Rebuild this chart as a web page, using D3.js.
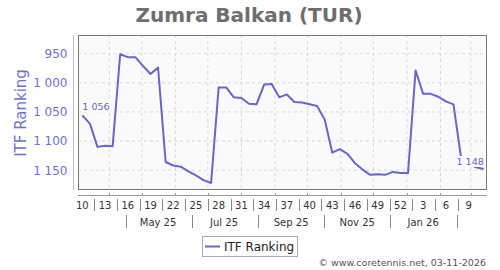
<!DOCTYPE html>
<html>
<head>
<meta charset="utf-8">
<script src="https://cdn.jsdelivr.net/npm/d3@7"></script>
<style>
  body { margin: 0; background: #fff; }
  svg { font-family: "DejaVu Sans", sans-serif; display: block; }
</style>
</head>
<body>
<svg width="500" height="270"></svg>
<script>
var width = 500;
var height = 270;

// iso weeks, from week 10 of 2025 to week 11 of 2026
var weeks = [10, 11, 12, 13, 14, 15, 16, 17, 18, 19, 20, 21, 22, 23, 24, 25, 26, 27,
    28, 29, 30, 31, 32, 33, 34, 35, 36, 37, 38, 39, 40, 41, 42, 43, 44, 45, 46, 47,
    48, 49, 50, 51, 52, 1, 2, 3, 4, 5, 6, 7, 8, 9, 10, 11];
var ranking = [1056, 1070, 1110, 1108, 1109, 951, 956, 956, 971, 985, 974, 1136,
    1142, 1144, 1152, 1159, 1167, 1172, 1008, 1008, 1025, 1026, 1036, 1037, 1003,
    1002, 1025, 1020, 1033, 1034, 1037, 1040, 1063, 1120, 1114, 1122, 1138, 1149,
    1158, 1157, 1158, 1153, 1155, 1155, 979, 1019, 1019, 1024, 1032, 1037, 1128,
    1140, 1145, 1148];
var yTicks = [950, 1000, 1050, 1100, 1150];
var monthLabels = ["May 25", "Jul 25", "Sep 25", "Nov 25", "Jan 26"];
var firstWeek = new Date(2025, 2, 7);

var data = weeks.map(function (w, i) {
    return { week: w, date: d3.timeDay.offset(firstWeek, i * 7), rank: ranking[i] };
});

var svg = d3.select('svg');
var lineColor = "#6666cc";
var fmt = function (v) { return d3.format(",")(v).replace(",", " "); };

var x = d3.scaleTime()
    .domain([new Date(2025, 2, 3), new Date(2026, 2, 16)])
    .range([78, 487]);
var y = d3.scaleLinear().domain([918, 1184]).range([35, 190]);

// title
svg.append("text")
    .attr("x", 249)
    .attr("y", 22)
    .attr("text-anchor", "middle")
    .attr("font-size", "20px")
    .attr("font-weight", "bold")
    .attr("fill", "#6e6e6e")
    .text("Zumra Balkan (TUR)");

// plot background
svg.append("rect")
    .attr("x", 78).attr("y", 35)
    .attr("width", 409).attr("height", 155)
    .attr("fill", "#fafafa");

// grid
var months = d3.timeMonth.range(new Date(2025, 3, 1), new Date(2026, 2, 2));
svg.append("g").selectAll("line")
    .data(yTicks)
    .enter().append("line")
    .attr("x1", 78).attr("x2", 487)
    .attr("y1", function (d) { return y(d); })
    .attr("y2", function (d) { return y(d); })
    .attr("stroke", "#d8d8d8")
    .attr("stroke-dasharray", "3,3");
svg.append("g").selectAll("line")
    .data(months)
    .enter().append("line")
    .attr("x1", function (d) { return x(d); })
    .attr("x2", function (d) { return x(d); })
    .attr("y1", 35).attr("y2", 190)
    .attr("stroke", "#d8d8d8")
    .attr("stroke-dasharray", "3,3");

// plot border
svg.append("rect")
    .attr("x", 78.5).attr("y", 35.5)
    .attr("width", 408).attr("height", 154)
    .attr("fill", "none")
    .attr("stroke", "#777");

// y axis
var yAxis = d3.axisLeft(y).tickValues(yTicks).tickSize(0).tickPadding(6).tickFormat(fmt);
var yg = svg.append("g")
    .attr("transform", "translate(73.5,0)")
    .call(yAxis);
yg.select(".domain").attr("stroke", "#b8b8e0").attr("d", "M0,35V190");
yg.selectAll("text")
    .attr("font-family", "DejaVu Sans, sans-serif")
    .attr("font-size", "12px")
    .attr("fill", "#7070cc");

svg.append("text")
    .attr("transform", "translate(26,113) rotate(-90)")
    .attr("text-anchor", "middle")
    .attr("font-size", "15px")
    .attr("fill", "#7070cc")
    .text("ITF Ranking");

// x axis line with month ticks
svg.append("line")
    .attr("x1", 78).attr("x2", 487)
    .attr("y1", 195.5).attr("y2", 195.5)
    .attr("stroke", "#999");
svg.append("g").selectAll("line")
    .data(months)
    .enter().append("line")
    .attr("x1", function (d) { return Math.round(x(d)) + 0.5; })
    .attr("x2", function (d) { return Math.round(x(d)) + 0.5; })
    .attr("y1", 193).attr("y2", 195.5)
    .attr("stroke", "#999");

// week labels every 3 weeks
var weekTicks = data.filter(function (d, i) { return i % 3 === 0 && i < 52; });
svg.append("g").selectAll("text")
    .data(weekTicks)
    .enter().append("text")
    .attr("x", function (d) { return x(d.date); })
    .attr("y", 209)
    .attr("text-anchor", "middle")
    .attr("font-size", "10px")
    .attr("fill", "#333")
    .text(function (d) { return d.week; });
svg.append("g").selectAll("line")
    .data(weekTicks.slice(1))
    .enter().append("line")
    .attr("x1", function (d) { return Math.round(x(d3.timeDay.offset(d.date, -10))) + 0.5; })
    .attr("x2", function (d) { return Math.round(x(d3.timeDay.offset(d.date, -10))) + 0.5; })
    .attr("y1", 199).attr("y2", 211)
    .attr("stroke", "#888");

// month labels, centred mid month, separators between
var monthMids = monthLabels.map(function (m, i) { return new Date(2025, 4 + i * 2, 16); });
svg.append("g").selectAll("text")
    .data(monthLabels)
    .enter().append("text")
    .attr("x", function (d, i) { return x(monthMids[i]); })
    .attr("y", 225.5)
    .attr("text-anchor", "middle")
    .attr("font-size", "10px")
    .attr("fill", "#333")
    .text(function (d) { return d; });
var monthSeps = d3.range(6).map(function (i) { return new Date(2025, 3 + i * 2, 16); });
svg.append("g").selectAll("line")
    .data(monthSeps)
    .enter().append("line")
    .attr("x1", function (d) { return Math.round(x(d)) + 0.5; })
    .attr("x2", function (d) { return Math.round(x(d)) + 0.5; })
    .attr("y1", 215).attr("y2", 228)
    .attr("stroke", "#888");

// ranking line
var line = d3.line()
    .x(function (d) { return x(d.date); })
    .y(function (d) { return y(d.rank); });
svg.append("path")
    .datum(data)
    .attr("d", line)
    .attr("fill", "none")
    .attr("stroke", lineColor)
    .attr("stroke-width", 2)
    .attr("stroke-linejoin", "round");

// first and last value labels, boxed with plot background
var first = data[0];
var last = data[data.length - 1];
var labels = [
    { d: first, anchor: "start", dx: 0, dy: -5 },
    { d: last, anchor: "end", dx: 0, dy: -4 }
];
labels.forEach(function (l) {
    var g = svg.append("g");
    var t = g.append("text")
        .attr("x", x(l.d.date) + l.dx)
        .attr("y", y(l.d.rank) + l.dy)
        .attr("text-anchor", l.anchor)
        .attr("font-size", "9.5px")
        .attr("fill", lineColor)
        .text(fmt(l.d.rank));
    var bb = t.node().getBBox();
    g.insert("rect", "text")
        .attr("x", bb.x - 1).attr("y", bb.y)
        .attr("width", bb.width + 2).attr("height", bb.height)
        .attr("fill", "#fafafa");
});

// legend
svg.append("rect")
    .attr("x", 202.5).attr("y", 236.5)
    .attr("width", 95).attr("height", 20)
    .attr("fill", "#fff")
    .attr("stroke", "#aaa");
svg.append("line")
    .attr("x1", 205).attr("x2", 220)
    .attr("y1", 246.5).attr("y2", 246.5)
    .attr("stroke", lineColor)
    .attr("stroke-width", 2);
svg.append("text")
    .attr("x", 224)
    .attr("y", 251)
    .attr("font-size", "12px")
    .attr("fill", "#222")
    .text("ITF Ranking");

// footer
svg.append("text")
    .attr("x", 486)
    .attr("y", 266)
    .attr("text-anchor", "end")
    .attr("font-size", "9.5px")
    .attr("fill", "#555")
    .text("\u00a9 www.coretennis.net, 03-11-2026");
</script>
</body>
</html>
